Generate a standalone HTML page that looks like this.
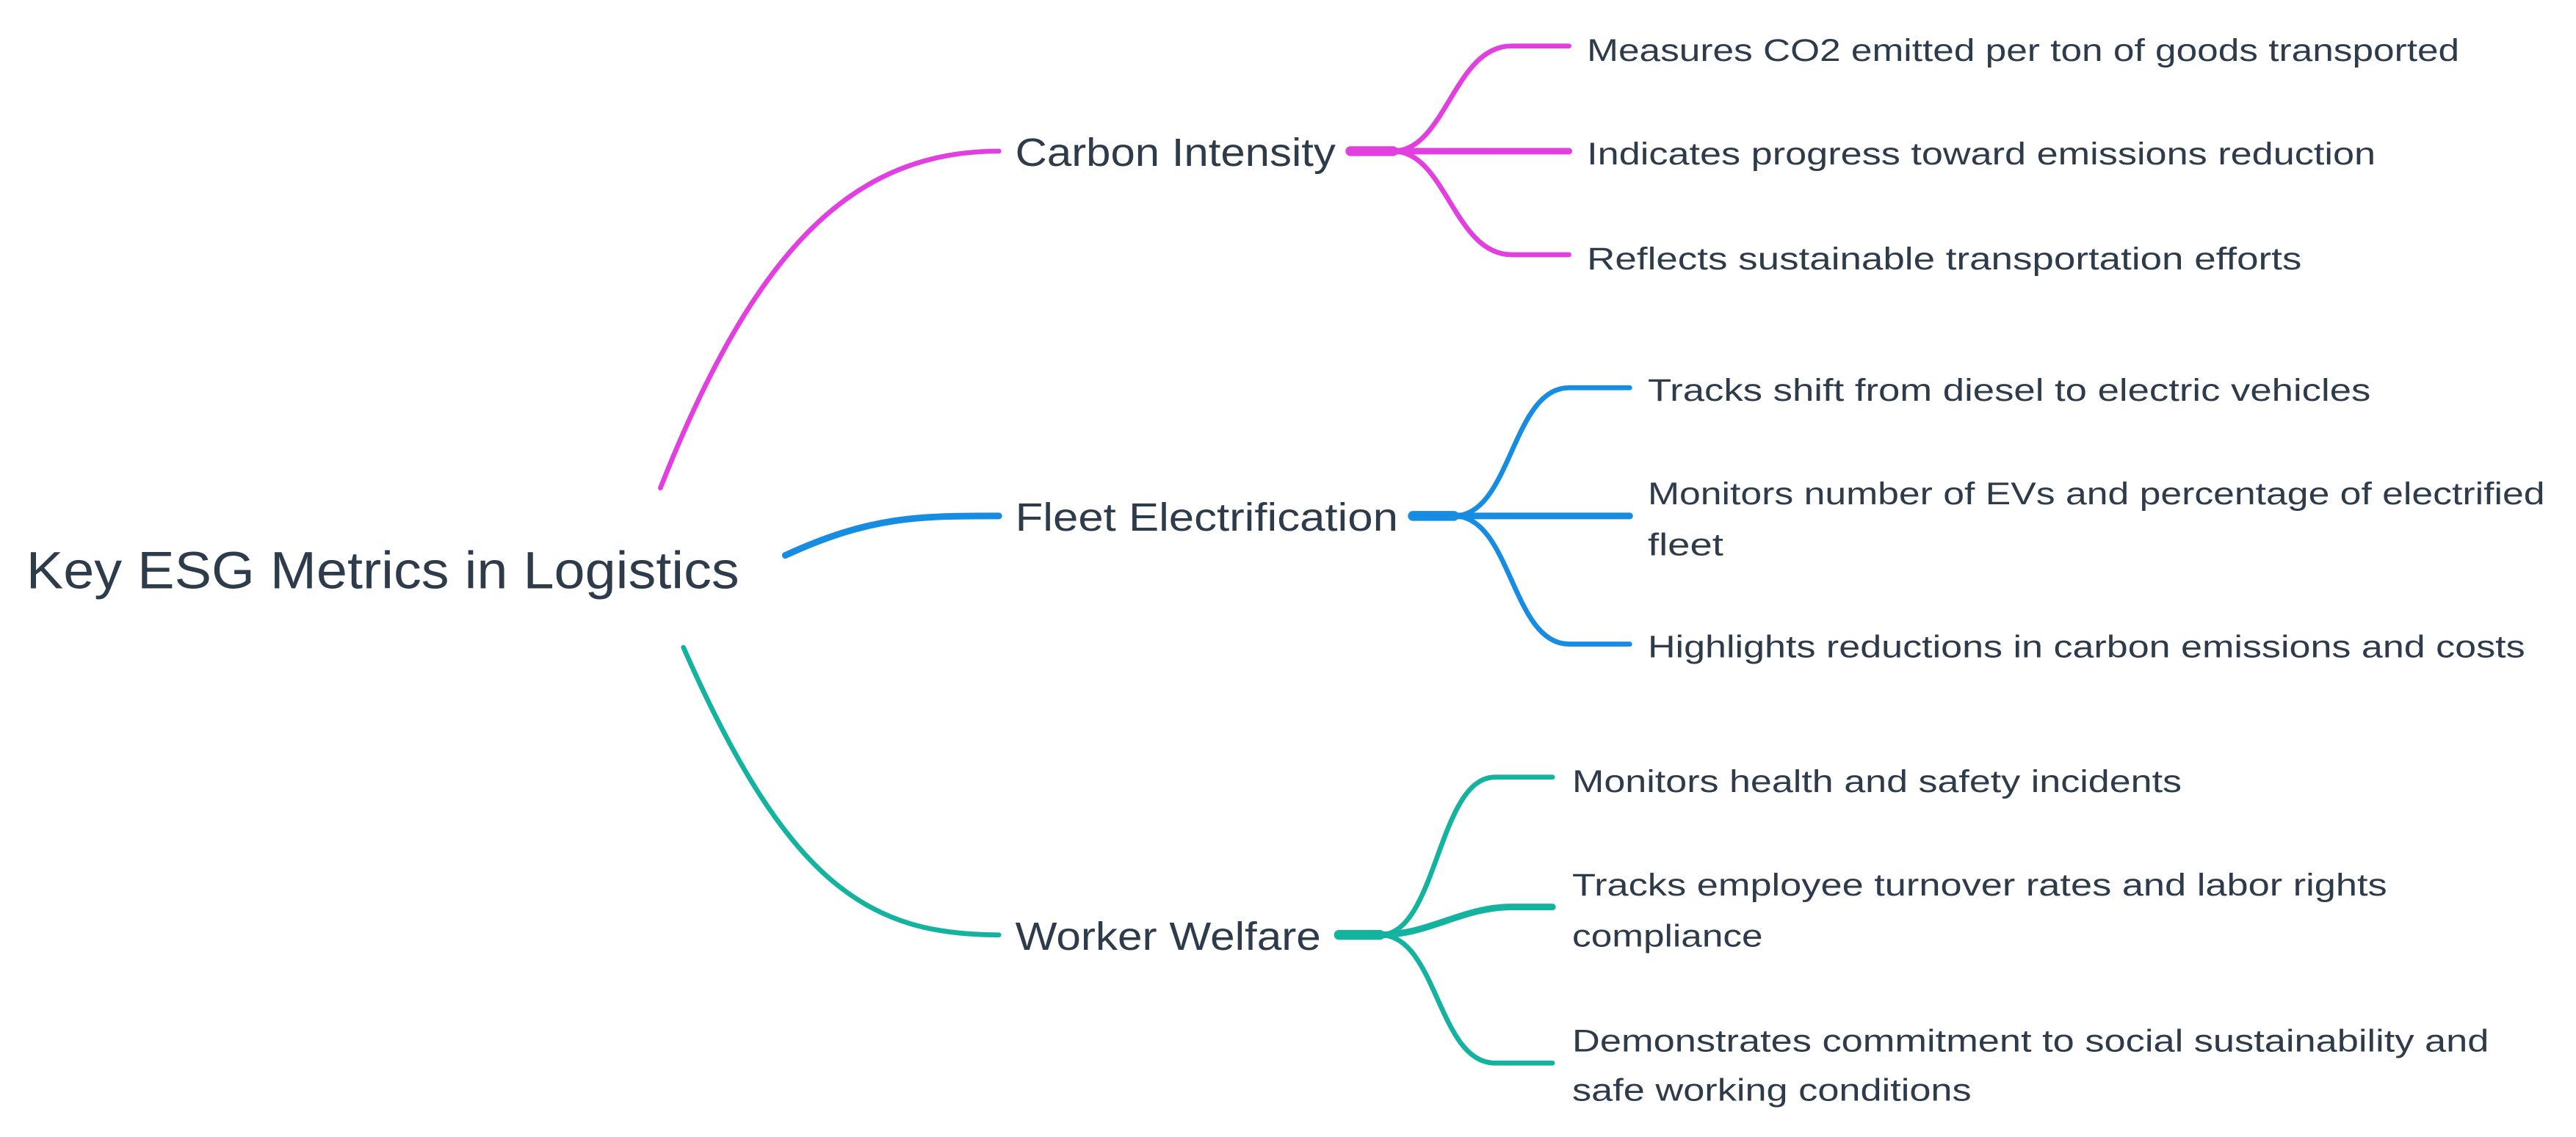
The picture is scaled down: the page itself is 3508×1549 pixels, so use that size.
<!DOCTYPE html>
<html><head><meta charset="utf-8"><style>
html,body{margin:0;padding:0;background:#fff;}
svg{display:block}
text{font-family:"Liberation Sans","DejaVu Sans",sans-serif;fill:#2e3b4b;}
</style></head><body>
<svg width="3508" height="1549" viewBox="0 0 1568 692" preserveAspectRatio="none" xmlns="http://www.w3.org/2000/svg">
<rect x="0" y="290" width="478" height="102" fill="#fff"/>
<g fill="none" stroke-linecap="round">
<!-- magenta -->
<g stroke="#e23fe0">
<path d="M402,297 C460,150 520,92 608,92" stroke-width="3"/>
<path d="M822,92 L848,92" stroke-width="6"/>
<path d="M848,92 C880,92 885,28 920,28 L955,28" stroke-width="3"/>
<path d="M848,92 L955,92" stroke-width="4"/>
<path d="M848,92 C880,92 885,155 920,155 L955,155" stroke-width="3"/>
</g>
<!-- blue -->
<g stroke="#168de2">
<path d="M478,338 C530,314 560,314 608,314" stroke-width="4"/>
<path d="M860,314 L885,314" stroke-width="6"/>
<path d="M885,314 C920,314 920,236 955,236 L992,236" stroke-width="3"/>
<path d="M885,314 L992,314" stroke-width="4"/>
<path d="M885,314 C920,314 920,392 955,392 L992,392" stroke-width="3"/>
</g>
<!-- teal -->
<g stroke="#13b3a0">
<path d="M416,394 C480,540 530,569 608,569" stroke-width="3"/>
<path d="M815,569 L840,569" stroke-width="6"/>
<path d="M840,569 C875,569 875,473 910,473 L945,473" stroke-width="3"/>
<path d="M840,569 C870,569 890,552 920,552 L945,552" stroke-width="4"/>
<path d="M840,569 C875,569 875,647 910,647 L945,647" stroke-width="3"/>
</g>
</g>
<text x="16" y="358" font-size="32" textLength="434" lengthAdjust="spacingAndGlyphs">Key ESG Metrics in Logistics</text>
<text x="618" y="101" font-size="24" textLength="195" lengthAdjust="spacingAndGlyphs">Carbon Intensity</text>
<text x="618" y="323" font-size="24" textLength="233" lengthAdjust="spacingAndGlyphs">Fleet Electrification</text>
<text x="618" y="578" font-size="24" textLength="186" lengthAdjust="spacingAndGlyphs">Worker Welfare</text>
<g font-size="19">
<text x="966" y="37" textLength="531" lengthAdjust="spacingAndGlyphs">Measures CO2 emitted per ton of goods transported</text>
<text x="966" y="100" textLength="480" lengthAdjust="spacingAndGlyphs">Indicates progress toward emissions reduction</text>
<text x="966" y="164" textLength="435" lengthAdjust="spacingAndGlyphs">Reflects sustainable transportation efforts</text>
<text x="1003" y="244" textLength="440" lengthAdjust="spacingAndGlyphs">Tracks shift from diesel to electric vehicles</text>
<text x="1003" y="307" textLength="546" lengthAdjust="spacingAndGlyphs">Monitors number of EVs and percentage of electrified</text>
<text x="1003" y="338" textLength="46" lengthAdjust="spacingAndGlyphs">fleet</text>
<text x="1003" y="400" textLength="534" lengthAdjust="spacingAndGlyphs">Highlights reductions in carbon emissions and costs</text>
<text x="957" y="482" textLength="371" lengthAdjust="spacingAndGlyphs">Monitors health and safety incidents</text>
<text x="957" y="545" textLength="496" lengthAdjust="spacingAndGlyphs">Tracks employee turnover rates and labor rights</text>
<text x="957" y="576" textLength="116" lengthAdjust="spacingAndGlyphs">compliance</text>
<text x="957" y="640" textLength="558" lengthAdjust="spacingAndGlyphs">Demonstrates commitment to social sustainability and</text>
<text x="957" y="670" textLength="243" lengthAdjust="spacingAndGlyphs">safe working conditions</text>
</g>
</svg>
</body></html>
